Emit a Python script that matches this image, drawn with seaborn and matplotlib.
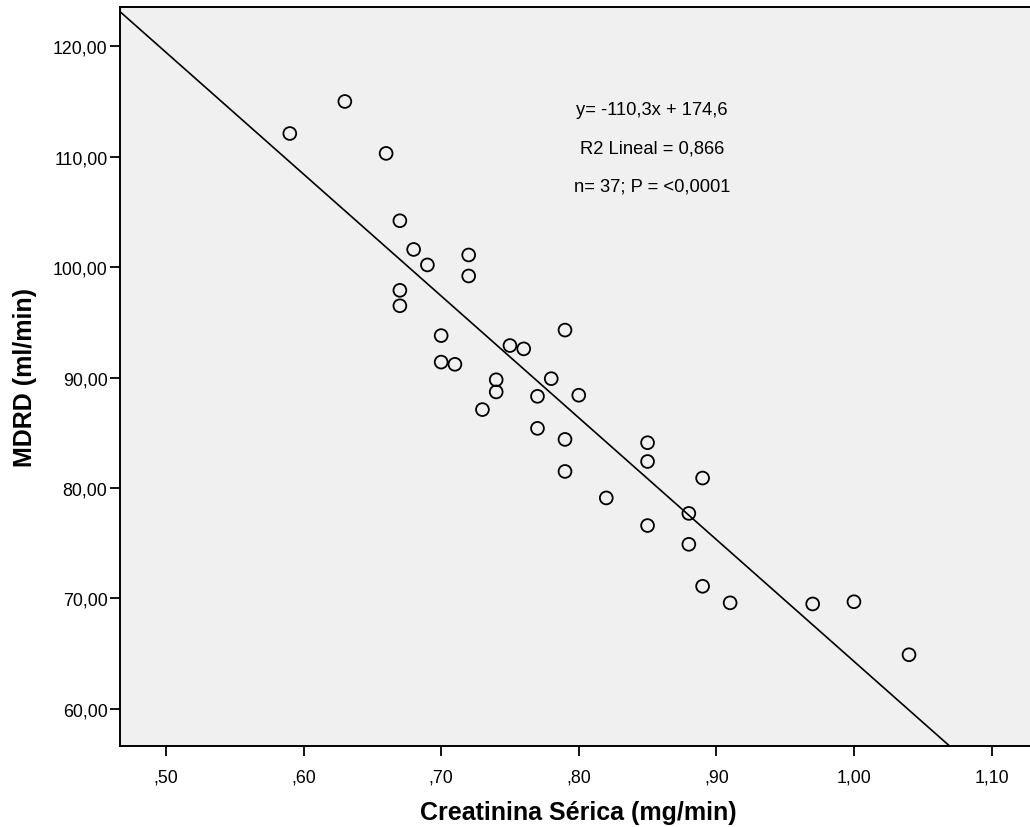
import matplotlib
matplotlib.use("Agg")
import matplotlib.pyplot as plt
import seaborn as sns
import pandas as pd
from matplotlib.ticker import FuncFormatter

creatinina = [0.59, 0.63, 0.66, 0.67, 0.68, 0.69, 0.72, 0.72, 0.67, 0.67,
              0.70, 0.70, 0.71, 0.75, 0.76, 0.79, 0.74, 0.74, 0.78, 0.73,
              0.77, 0.80, 0.77, 0.79, 0.79, 0.85, 0.85, 0.89, 0.82, 0.88,
              0.85, 0.88, 0.89, 0.91, 0.97, 1.00, 1.04]
mdrd = [112.1, 115.0, 110.3, 104.2, 101.6, 100.2, 101.1, 99.2, 97.9, 96.5,
        93.8, 91.4, 91.2, 92.9, 92.6, 94.3, 89.8, 88.7, 89.9, 87.1,
        88.3, 88.4, 85.4, 84.4, 81.5, 84.1, 82.4, 80.9, 79.1, 77.7,
        76.6, 74.9, 71.1, 69.6, 69.5, 69.7, 64.9]
slope = -110.3
intercept = 174.6
x_ticks = [0.50, 0.60, 0.70, 0.80, 0.90, 1.00, 1.10]
y_ticks = [60, 70, 80, 90, 100, 110, 120]
annotations = ["y= -110,3x + 174,6", "R2 Lineal = 0,866", "n= 37; P = <0,0001"]

df = pd.DataFrame({"Creatinina": creatinina, "MDRD": mdrd})

sns.set_theme(style="ticks")
plt.rcParams["font.family"] = ["Liberation Sans", "DejaVu Sans"]

fig = plt.figure(figsize=(10.30, 8.28), dpi=100)
ax = fig.add_axes([0.1165, 0.098, 0.89, 0.892])
ax.set_facecolor("#F0F0F0")

ax.set_xlim(0.4666, 1.1328)
ax.set_ylim(56.65, 123.53)

ax.axline((0, intercept), slope=slope, color="black", linewidth=1.2, zorder=2)

sns.scatterplot(data=df, x="Creatinina", y="MDRD", ax=ax, marker="o",
                s=85, facecolor="none", edgecolor="black", linewidth=1.3,
                zorder=3)

ax.set_xticks(x_ticks)
ax.set_yticks(y_ticks)


def fmt_x(v, pos):
    s = f"{v:.2f}".replace(".", ",")
    if s.startswith("0"):
        s = s[1:]
    return s


def fmt_y(v, pos):
    return f"{v:.2f}".replace(".", ",")


ax.xaxis.set_major_formatter(FuncFormatter(fmt_x))
ax.yaxis.set_major_formatter(FuncFormatter(fmt_y))
ax.tick_params(axis="both", direction="out", length=7, width=1.3,
               color="black", labelsize=12.8, labelcolor="black")
ax.tick_params(axis="x", pad=9)
ax.tick_params(axis="y", pad=2)

for side in ["left", "bottom", "top"]:
    ax.spines[side].set_color("black")
    ax.spines[side].set_linewidth(1.4)
ax.spines["right"].set_visible(False)

ax.set_xlabel("Creatinina Sérica (mg/min)", fontsize=18, fontweight="bold",
              labelpad=11, color="black")
ax.set_ylabel("MDRD (ml/min)", fontsize=18, fontweight="bold",
              labelpad=11, color="black")

text_x = 0.5 + (652 - 166) / 1376
for i, t in enumerate(annotations):
    yv = 120 - (110 + 38.5 * i - 47) / 11.05
    ax.text(text_x, yv, t, ha="center", va="center", fontsize=13.2,
            color="black")

fig.savefig("out.png", dpi=100, facecolor="white")
